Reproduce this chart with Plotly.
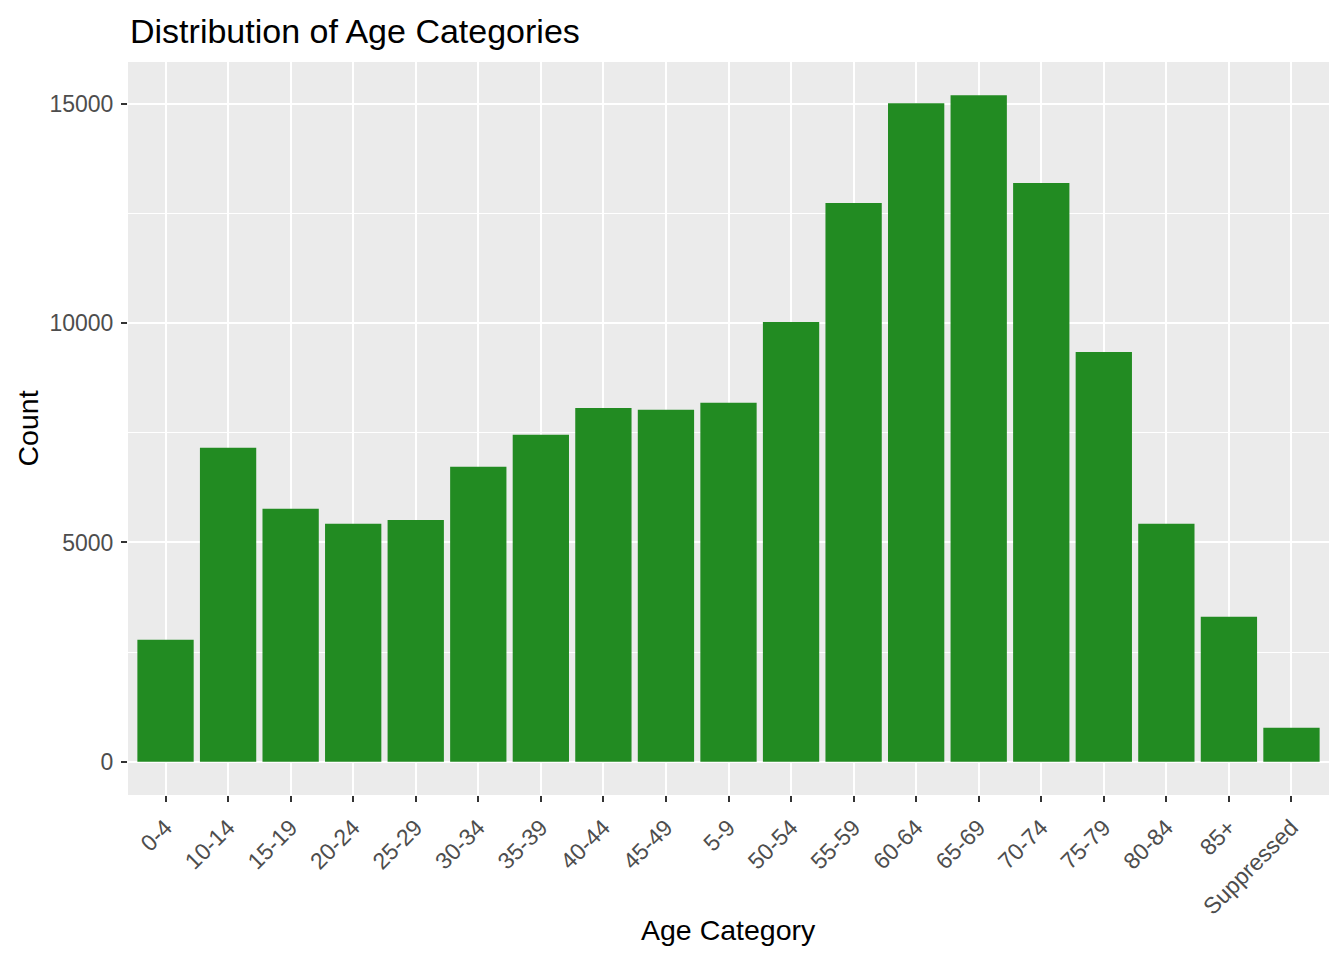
import plotly.graph_objects as go

categories = ["0-4", "10-14", "15-19", "20-24", "25-29", "30-34", "35-39", "40-44",
              "45-49", "5-9", "50-54", "55-59", "60-64", "65-69", "70-74", "75-79",
              "80-84", "85+", "Suppressed"]
counts = [2780, 7160, 5770, 5425, 5515, 6725, 7455, 8070, 8025, 8185, 10030,
          12745, 15020, 15200, 13200, 9345, 5425, 3305, 775]
y_ticks = [0, 5000, 10000, 15000]
y_minor = [2500, 7500, 12500]

W, H = 1328, 944
L, R, T, B = 120, 7, 54, 157
PW, PH = W - L - R, H - T - B
FONT = "Liberation Sans, Arial, sans-serif"

fig = go.Figure(go.Bar(x=categories, y=counts, marker=dict(color="#228B22", line=dict(width=0)),
                       width=0.9))

fig.update_layout(
    width=W, height=H,
    margin=dict(l=L, r=R, t=T, b=B, autoexpand=False),
    paper_bgcolor="white", plot_bgcolor="#EBEBEB",
    font=dict(family=FONT),
    title=dict(text="Distribution of Age Categories", x=122 / W, xanchor="left",
               xref="container", yref="container",
               y=1 - 23.5 / H, yanchor="middle",
               font=dict(size=34, color="black")),
    showlegend=False,
    annotations=[
        dict(text="Count", xref="paper", yref="paper", x=(19 - L) / PW, y=0.5,
             xanchor="center", yanchor="middle", textangle=-90, showarrow=False,
             font=dict(size=28.5, color="black")),
        dict(text="Age Category", xref="paper", yref="paper", x=0.5, y=1 - (922 - T) / PH,
             xanchor="center", yanchor="middle", showarrow=False,
             font=dict(size=28.5, color="black")),
    ],
)
fig.update_xaxes(
    range=[-0.6, 18.6], tickangle=-45, automargin=False,
    tickfont=dict(size=23, color="#4D4D4D"), ticklabelstandoff=3,
    showgrid=True, gridcolor="white", gridwidth=2,
    ticks="outside", ticklen=6, tickwidth=2, tickcolor="#333333",
    zeroline=False, showline=False,
)
fig.update_yaxes(
    range=[-760, 15960], tickvals=y_ticks, tickformat="d", automargin=False,
    tickfont=dict(size=23, color="#4D4D4D"), ticklabelstandoff=3,
    showgrid=True, gridcolor="white", gridwidth=2,
    minor=dict(tickvals=y_minor, showgrid=True, gridcolor="white", gridwidth=1, ticks=""),
    ticks="outside", ticklen=6, tickwidth=2, tickcolor="#333333",
    zeroline=False, showline=False,
)
fig.write_html("out.html")
